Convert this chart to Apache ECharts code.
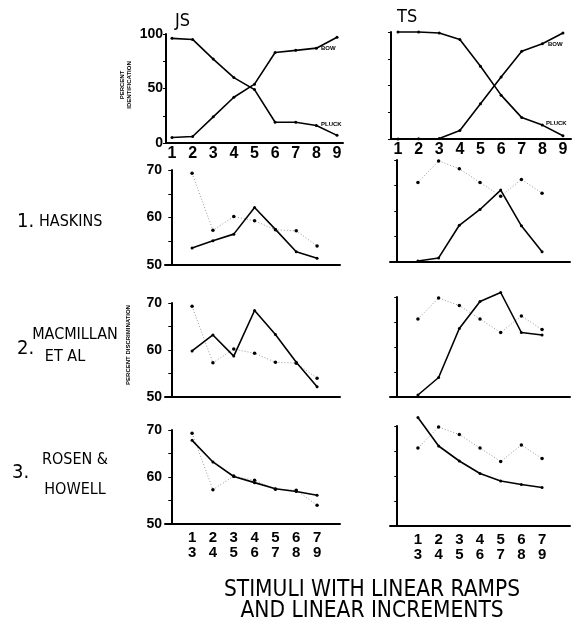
<!DOCTYPE html>
<html>
<head>
<meta charset="utf-8">
<script src="https://cdn.jsdelivr.net/npm/echarts@6/dist/echarts.min.js"></script>
<style>
  html, body { margin: 0; padding: 0; background: #fff; }
  #main { width: 573px; height: 628px; }
</style>
</head>
<body>
<div id="main"></div>
<script>
// identification (stimuli 1..9)
var stimuli = [1, 2, 3, 4, 5, 6, 7, 8, 9];
var jsBow = [5, 6, 24, 42, 54, 83, 85, 87, 97];
var jsPluck = [96, 95, 77, 60, 49, 19, 19, 16, 7];
var tsBow = [0, 0.3, 0.5, 8, 33, 58, 82, 89, 99];
var tsPluck = [100, 100, 99, 93, 68, 41, 20, 13, 3];

// discrimination pairs
var pairIdx = [1, 2, 3, 4, 5, 6, 7];
var pairLabels = ['1\n3', '2\n4', '3\n5', '4\n6', '5\n7', '6\n8', '7\n9'];
var jsObtained = [69.3, 57.3, 60.2, 59.3, 57.4, 57.2, 54.0];
var tsObtained = [65.6, 69.8, 68.3, 65.6, 62.9, 66.2, 63.5];
var jsHaskins = [53.6, 55.1, 56.5, 62.1, 57.5, 52.8, 51.4];
var tsHaskins = [50.2, 50.8, 57.2, 60.3, 64.1, 57.1, 52.0];
var jsMacmillan = [59.8, 63.2, 58.7, 68.4, 63.3, 57.4, 52.2];
var tsMacmillan = [50.4, 53.9, 63.7, 69.1, 70.9, 62.9, 62.4];
var jsRosen = [67.8, 63.2, 60.1, 58.8, 57.5, 56.9, 56.1];
var tsRosen = [71.7, 66.0, 63.0, 60.5, 59.0, 58.3, 57.7];

var myChart = echarts.init(document.getElementById('main'));

function pts(xs, ys) {
    return xs.map(function (x, i) { return [x, ys[i]]; });
}

var boldNum = { color: '#000', fontFamily: 'Liberation Sans', fontWeight: 'bold' };
var narrow = "'Liberation Sans Narrow', 'DejaVu Sans Condensed', sans-serif";

var grids = [
    { left: 166, top: 34, width: 177, height: 109 },
    { left: 391, top: 32, width: 180, height: 107 },
    { left: 165, top: 170, width: 175, height: 95 },
    { left: 390, top: 160, width: 180, height: 102 },
    { left: 165, top: 303, width: 175, height: 94 },
    { left: 390, top: 297, width: 180, height: 100 },
    { left: 165, top: 430, width: 175, height: 94 },
    { left: 390, top: 426, width: 180, height: 100 }
];

var xAxes = [];
var yAxes = [];
grids.forEach(function (g, i) {
    var top = i < 2;
    var left = i % 2 === 0;
    var bottom = i >= 6;
    var xa = {
        type: 'value', gridIndex: i,
        axisLine: { show: true, lineStyle: { color: '#000', width: 2 } },
        splitLine: { show: false },
        axisTick: { show: false },
        axisLabel: { show: false }
    };
    if (top) {
        xa.min = left ? 0.71 : 0.66;
        xa.max = left ? 9.29 : 9.39;
        xa.axisLabel = Object.assign({ show: true, customValues: stimuli, fontSize: 16, margin: 3 }, boldNum);
    } else {
        xa.min = left ? -0.3 : -0.35;
        xa.max = left ? 8.1 : 8.35;
        if (bottom) {
            xa.axisLabel = Object.assign({
                show: true, customValues: pairIdx, fontSize: 15, lineHeight: 15, margin: 6,
                formatter: function (v) { return pairLabels[v - 1]; }
            }, boldNum);
        }
    }
    xAxes.push(xa);

    var ya = {
        type: 'value', gridIndex: i,
        axisLine: { show: true, lineStyle: { color: '#000', width: 2 } },
        splitLine: { show: false },
        axisTick: { show: true, length: 3, lineStyle: { color: '#000' } }
    };
    if (top) {
        ya.min = 0; ya.max = 100; ya.interval = 25;
        ya.axisLabel = Object.assign({
            show: left, fontSize: 14, margin: 3,
            formatter: function (v) { return v % 50 === 0 ? v : ''; }
        }, boldNum);
    } else {
        ya.min = 50; ya.max = 70; ya.interval = 5;
        ya.axisLabel = Object.assign({
            show: left, fontSize: 14, margin: 3,
            formatter: function (v) { return v % 10 === 0 ? v : ''; }
        }, boldNum);
    }
    yAxes.push(ya);
});

function solid(i, xs, ys) {
    return {
        type: 'line', xAxisIndex: i, yAxisIndex: i, data: pts(xs, ys),
        symbol: 'circle', symbolSize: 3, clip: false, animation: false,
        lineStyle: { color: '#000', width: 1.6 },
        itemStyle: { color: '#000' }
    };
}
function dotted(i, xs, ys) {
    return {
        type: 'line', xAxisIndex: i, yAxisIndex: i, data: pts(xs, ys),
        symbol: 'circle', symbolSize: 3.5, clip: false, animation: false,
        lineStyle: { color: '#999', width: 1, type: [1, 2] },
        itemStyle: { color: '#000' }
    };
}

var series = [
    solid(0, stimuli, jsBow), solid(0, stimuli, jsPluck),
    solid(1, stimuli, tsBow), solid(1, stimuli, tsPluck),
    dotted(2, pairIdx, jsObtained), solid(2, pairIdx, jsHaskins),
    dotted(3, pairIdx, tsObtained), solid(3, pairIdx, tsHaskins),
    dotted(4, pairIdx, jsObtained), solid(4, pairIdx, jsMacmillan),
    dotted(5, pairIdx, tsObtained), solid(5, pairIdx, tsMacmillan),
    dotted(6, pairIdx, jsObtained), solid(6, pairIdx, jsRosen),
    dotted(7, pairIdx, tsObtained), solid(7, pairIdx, tsRosen)
];

function txt(x, y, s, size, extra) {
    return {
        type: 'text', x: x, y: y,
        style: Object.assign({ text: s, fontSize: size, fontFamily: narrow, fill: '#000' }, extra || {})
    };
}
var tiny = { fontFamily: 'Liberation Sans', fontWeight: 'bold', fontSize: 6 };

var graphics = [
    txt(175, 12, 'JS', 18),
    txt(397, 8, 'TS', 18),
    txt(321, 45, 'BOW', 6, tiny),
    txt(321, 121, 'PLUCK', 6, tiny),
    txt(548, 41, 'BOW', 6, tiny),
    txt(546, 120, 'PLUCK', 6, tiny),
    {
        type: 'text', x: 126, y: 85, rotation: Math.PI / 2,
        style: { text: 'PERCENT\nIDENTIFICATION', fontSize: 6, lineHeight: 7, fontFamily: 'Liberation Sans',
            fontWeight: 'bold', fill: '#000', align: 'center', verticalAlign: 'middle' }
    },
    {
        type: 'text', x: 128, y: 345, rotation: Math.PI / 2,
        style: { text: 'PERCENT DISCRIMINATION', fontSize: 6, fontFamily: 'Liberation Sans',
            fontWeight: 'bold', fill: '#000', align: 'center', verticalAlign: 'middle' }
    },
    txt(17, 222, '1.', 20, { verticalAlign: 'middle' }),
    txt(39, 222, 'HASKINS', 16, { verticalAlign: 'middle' }),
    txt(17, 349, '2.', 20, { verticalAlign: 'middle' }),
    txt(75, 335, 'MACMILLAN', 16, { verticalAlign: 'middle', align: 'center' }),
    txt(65, 357, 'ET AL', 16, { verticalAlign: 'middle', align: 'center' }),
    txt(12, 473, '3.', 20, { verticalAlign: 'middle' }),
    txt(75, 460, 'ROSEN &', 16, { verticalAlign: 'middle', align: 'center' }),
    txt(75, 490, 'HOWELL', 16, { verticalAlign: 'middle', align: 'center' }),
    txt(372, 590, 'STIMULI WITH LINEAR RAMPS', 22.5, { verticalAlign: 'middle', align: 'center' }),
    txt(372, 611, 'AND LINEAR INCREMENTS', 22.5, { verticalAlign: 'middle', align: 'center' })
];

var option = {
    backgroundColor: '#fff',
    animation: false,
    grid: grids,
    xAxis: xAxes,
    yAxis: yAxes,
    series: series,
    graphic: graphics
};

myChart.setOption(option);

window.onresize = function () {
    myChart.resize();
};
</script>
</body>
</html>
